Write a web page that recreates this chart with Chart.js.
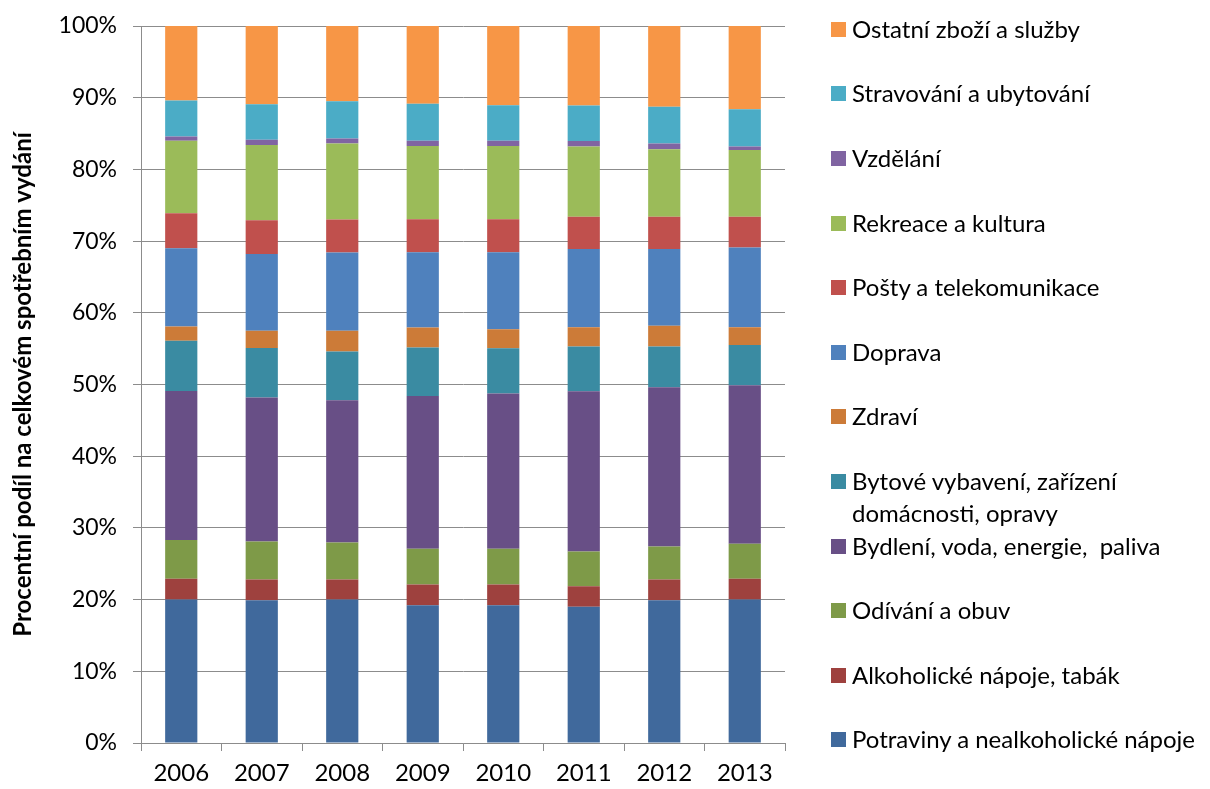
<!DOCTYPE html>
<html>
<head>
<meta charset="utf-8">
<script src="https://cdn.jsdelivr.net/npm/chart.js@4"></script>
<style>
  html, body { margin: 0; padding: 0; background: #fff; }
  #wrap { position: relative; width: 1210px; height: 789px; }
  #legend { position: absolute; left: 0; top: 0; font-family: Lato, sans-serif; font-size: 24px; color: #000; }
  .item { position: absolute; left: 831px; height: 32px; line-height: 32px; white-space: pre; }
  .box { position: absolute; left: 0; top: 9px; width: 15px; height: 15px; }
  .txt { position: absolute; left: 21px; top: 0; }
</style>
</head>
<body>
<div id="wrap">
  <canvas id="vydaniChart" width="1210" height="789"></canvas>
  <div id="legend"></div>
</div>
<script>
const years = ['2006', '2007', '2008', '2009', '2010', '2011', '2012', '2013'];

// podíly v % (zespodu nahoru)
const potraviny  = [20.0, 19.9, 20.0, 19.2, 19.2, 19.0, 19.9, 20.0];
const alkohol    = [2.9, 2.9, 2.8, 2.9, 2.9, 2.85, 2.9, 2.9];
const odivani    = [5.4, 5.3, 5.15, 5.0, 5.0, 4.85, 4.6, 4.9];
const bydleni    = [20.8, 20.1, 19.85, 21.3, 21.65, 22.35, 22.2, 22.1];
const bytove     = [7.0, 6.9, 6.8, 6.75, 6.3, 6.25, 5.7, 5.6];
const zdravi     = [2.0, 2.4, 2.9, 2.8, 2.65, 2.7, 2.9, 2.5];
const doprava    = [10.9, 10.7, 10.9, 10.5, 10.75, 10.9, 10.7, 11.1];
const posty      = [4.9, 4.7, 4.6, 4.6, 4.6, 4.5, 4.5, 4.3];
const rekreace   = [10.1, 10.5, 10.6, 10.2, 10.2, 9.8, 9.4, 9.3];
const vzdelani   = [0.6, 0.75, 0.7, 0.75, 0.75, 0.75, 0.8, 0.5];
const stravovani = [5.0, 4.95, 5.2, 5.15, 4.95, 4.95, 5.15, 5.2];
const ostatni    = [10.5, 10.9, 10.5, 10.9, 11.1, 11.1, 11.25, 11.6];

const seriesNames = [
  'Potraviny a nealkoholické nápoje',
  'Alkoholické nápoje, tabák',
  'Odívání a obuv',
  'Bydlení, voda, energie,  paliva',
  'Bytové vybavení, zařízení\ndomácnosti, opravy',
  'Zdraví',
  'Doprava',
  'Pošty a telekomunikace',
  'Rekreace a kultura',
  'Vzdělání',
  'Stravování a ubytování',
  'Ostatní zboží a služby'
];
const seriesData = [potraviny, alkohol, odivani, bydleni, bytove, zdravi,
                    doprava, posty, rekreace, vzdelani, stravovani, ostatni];
const seriesColors = ['#40699c', '#9e413e', '#7e9a48', '#684f86', '#3a8ba2', '#cc7b38',
                      '#4f81bd', '#c0504d', '#9bbb59', '#8064a2', '#4bacc6', '#f79646'];

const gridColor = '#8c8c8c';

const ctx = document.getElementById('vydaniChart').getContext('2d');
const chart = new Chart(ctx, {
  type: 'bar',
  data: {
    labels: years,
    datasets: seriesNames.map((name, i) => ({
      label: name,
      data: seriesData[i],
      backgroundColor: seriesColors[i],
      borderWidth: 0,
      barPercentage: 0.4,
      categoryPercentage: 1.0
    }))
  },
  options: {
    responsive: false,
    animation: false,
    layout: { padding: { top: 26, right: 425, bottom: 0, left: 0 } },
    plugins: {
      legend: { display: false },
      tooltip: { enabled: false }
    },
    scales: {
      x: {
        stacked: true,
        afterFit: s => { s.height = 46; },
        grid: { drawOnChartArea: false, drawTicks: true, tickLength: 8, color: gridColor },
        border: { color: gridColor },
        ticks: { color: '#000', padding: 8, font: { family: 'Lato', size: 24 } }
      },
      y: {
        stacked: true,
        min: 0,
        max: 100,
        afterFit: s => { s.width = 141; s.paddingTop = 10; s.paddingBottom = 10; },
        grid: { color: gridColor, tickLength: 8 },
        border: { color: gridColor },
        ticks: {
          stepSize: 10,
          color: '#000',
          padding: 16,
          font: { family: 'Lato', size: 23 },
          callback: v => v + '%'
        },
        title: {
          display: true,
          text: 'Procentní podíl na celkovém spotřebním vydání',
          color: '#000',
          padding: { top: 9, bottom: 0 },
          font: { family: 'Lato', size: 24, weight: 'bold' }
        }
      }
    }
  }
});

// legenda vpravo, v obráceném pořadí
const legend = document.getElementById('legend');
seriesNames.slice().reverse().forEach((name, i) => {
  const idx = seriesNames.length - 1 - i;
  const row = document.createElement('div');
  row.className = 'item';
  row.style.top = (12.7 + i * 64.6) + 'px';
  row.innerHTML = '<span class="box" style="background:' + seriesColors[idx] + '"></span>' +
                  '<span class="txt"></span>';
  row.querySelector('.txt').textContent = name;
  legend.appendChild(row);
});
</script>
</body>
</html>
